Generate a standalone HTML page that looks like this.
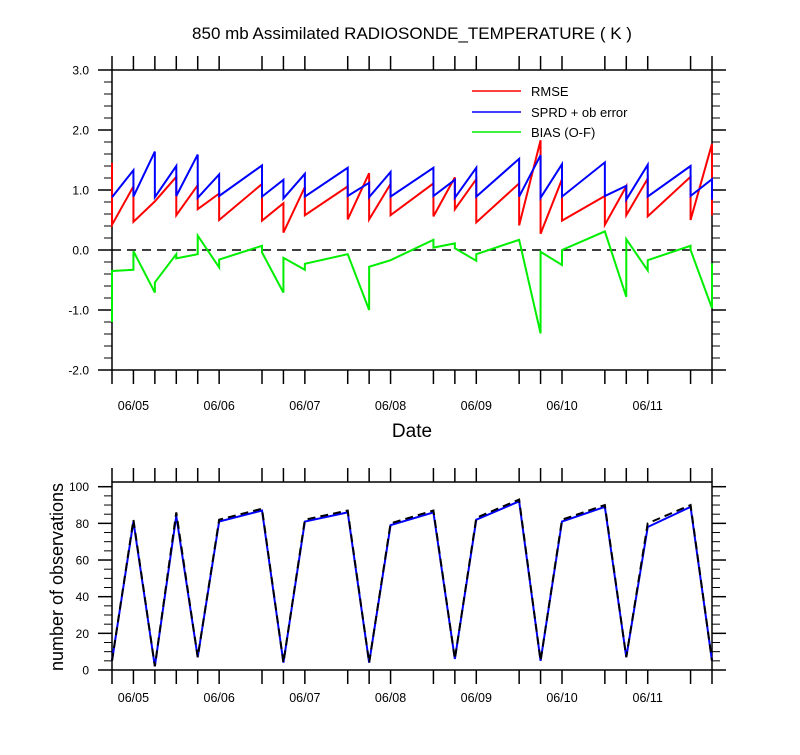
<!DOCTYPE html>
<html><head><meta charset="utf-8"><style>
body{margin:0;background:#fff;}
svg text{font-family:"Liberation Sans",sans-serif;fill:#000;}
</style></head><body>
<svg id="chart" width="800" height="750">
<text x="412" y="39" font-size="17" text-anchor="middle">850 mb Assimilated RADIOSONDE_TEMPERATURE ( K )</text>
<text x="412" y="437" font-size="19" text-anchor="middle">Date</text>
<text transform="translate(63,577) rotate(-90)" font-size="18" text-anchor="middle">number of observations</text>
<g id="top"></g>
<g id="bot"></g>
<g>
<line x1="472" y1="91" x2="521" y2="91" stroke="#f00" stroke-width="1.5"/>
<text x="531" y="96" font-size="13">RMSE</text>
<line x1="472" y1="112" x2="521" y2="112" stroke="#00f" stroke-width="1.5"/>
<text x="531" y="117" font-size="13">SPRD + ob error</text>
<line x1="472" y1="132" x2="521" y2="132" stroke="#0e0" stroke-width="1.5"/>
<text x="531" y="137" font-size="13">BIAS (O-F)</text>
</g>
</svg>
<script>
// times in 6-hour steps from 06/04 18Z
const times=[0,1,2,3,4,5,7,8,9,11,12,13,15,16,17,19,20,21,23,24,25,27,28];
const rmseF=[1.45,1.06,0.81,1.22,1.08,0.94,1.10,0.78,1.05,1.06,1.28,1.10,1.11,1.21,1.18,1.11,1.83,1.18,0.90,1.06,1.19,1.22,1.77];
const rmseA=[0.42,0.47,0.81,0.58,0.68,0.50,0.49,0.29,0.58,0.51,0.51,0.58,0.56,0.68,0.46,0.41,0.27,0.49,0.42,0.58,0.56,0.50,0.58];
const sprdF=[0.88,1.33,1.64,1.40,1.59,1.26,1.41,1.17,1.27,1.37,1.12,1.30,1.37,1.17,1.37,1.52,1.58,1.43,1.46,1.07,1.42,1.40,1.18];
const sprdA=[0.88,0.89,0.88,0.90,0.87,0.90,0.89,0.86,0.89,0.90,0.88,0.89,0.90,0.87,0.89,0.89,0.87,0.89,0.90,0.84,0.89,0.90,0.84];
const biasF=[-1.2,-0.33,-0.71,-0.07,-0.07,-0.29,0.07,-0.71,-0.33,-0.07,-1.0,-0.17,0.17,0.11,-0.18,0.17,-1.39,-0.25,0.31,-0.78,-0.34,0.07,-0.97];
const biasA=[-0.35,-0.02,-0.54,-0.14,0.24,-0.16,-0.04,-0.13,-0.23,-0.07,-0.28,-0.17,0.04,0.03,-0.07,0.17,-0.03,0.00,0.31,0.18,-0.17,0.00,-0.22];
const obsBlue=[5,81,2,84,7,81,87,4,81,86,4,79,86,6,82,92,5,81,89,7,78,89,5];
const obsBlack=[5,82,2,86,7,82,88,4,82,87,4,80,87,6,83,93,5,82,90,7,80,90,5];
const dateLabels=["06/05","06/06","06/07","06/08","06/09","06/10","06/11"];
const dateTimes=[1,5,9,13,17,21,25];
const yTicksTop=[3,2,1,0,-1,-2];
const yTicksBot=[0,20,40,60,80,100];

const NS="http://www.w3.org/2000/svg";
const X=t=>112+t*600/28;
const YT=v=>70+(3-v)*60;
const YB=v=>670-v*1.833;
function mk(p,tag,a){const e=document.createElementNS(NS,tag);for(const k in a)e.setAttribute(k,a[k]);p.appendChild(e);return e;}
function frame(g,y0,y1,yf,majors,minorStep,lo,hi,fmt,lblOff){
  const f=mk(g,'rect',{x:112,y:y0,width:600,height:y1-y0,fill:'none',stroke:'#000','stroke-width':1.5});
  
  
  for(const t of times){
    const a=mk(g,'line',{x1:X(t),y1:y0,x2:X(t),y2:y0-14,stroke:'#000','stroke-width':1.5});
    
    
    const b=mk(g,'line',{x1:X(t),y1:y1,x2:X(t),y2:y1+14,stroke:'#000','stroke-width':1.5});
    
    
  }
  const n=Math.round((hi-lo)/minorStep);
  for(let k=0;k<=n;k++){
    const v=lo+k*minorStep;
    const isMaj=majors.some(m=>Math.abs(m-v)<1e-6);
    const L=isMaj?14:8, y=yf(v);
    const l=mk(g,'line',{x1:112-L,y1:y,x2:112,y2:y,stroke:'#000','stroke-width':isMaj?1.5:1});
    
    
    const r=mk(g,'line',{x1:712,y1:y,x2:712+L,y2:y,stroke:'#000','stroke-width':isMaj?1.5:1});
    
    
  }
  for(const m of majors){
    const tx=mk(g,'text',{x:89,y:yf(m)+4.5,'font-size':12,'text-anchor':'end'});
    tx.textContent=fmt(m);
    
    
  }
  dateLabels.forEach((d,i)=>{
    const tx=mk(g,'text',{x:X(dateTimes[i]),y:y1+lblOff,'font-size':12.5,'text-anchor':'middle'});
    tx.textContent=d;
    
    
  });
}
const gTop=document.getElementById('top'),gBot=document.getElementById('bot');
frame(gTop,70,370,YT,yTicksTop,0.2,-2,3,v=>v.toFixed(1),40);
frame(gBot,482,670,YB,yTicksBot,5,0,100,v=>String(v),32);
const z=mk(gTop,'line',{x1:112,y1:YT(0),x2:712,y2:YT(0),stroke:'#000','stroke-width':1.5,'stroke-dasharray':'9,6'});


function saw(F,A,color,name){
  let pts=[];
  times.forEach((t,i)=>{pts.push(X(t)+','+YT(F[i]));pts.push(X(t)+','+YT(A[i]));});
  const p=mk(gTop,'polyline',{points:pts.join(' '),fill:'none',stroke:color,'stroke-width':2});
  
  
}
saw(rmseF,rmseA,'#f00','rmse-line');
saw(sprdF,sprdA,'#00f','sprd-line');
saw(biasF,biasA,'#0e0','bias-line');
function obs(V,color,dash,name){
  const pts=times.map((t,i)=>X(t)+','+YB(V[i])).join(' ');
  const a={points:pts,fill:'none',stroke:color,'stroke-width':2};
  if(dash)a['stroke-dasharray']=dash;
  const p=mk(gBot,'polyline',a);
  
  
}
obs(obsBlue,'#00f',null,'obs-assimilated-line');
obs(obsBlack,'#000','8,5','obs-total-line');
</script>
</body></html>
